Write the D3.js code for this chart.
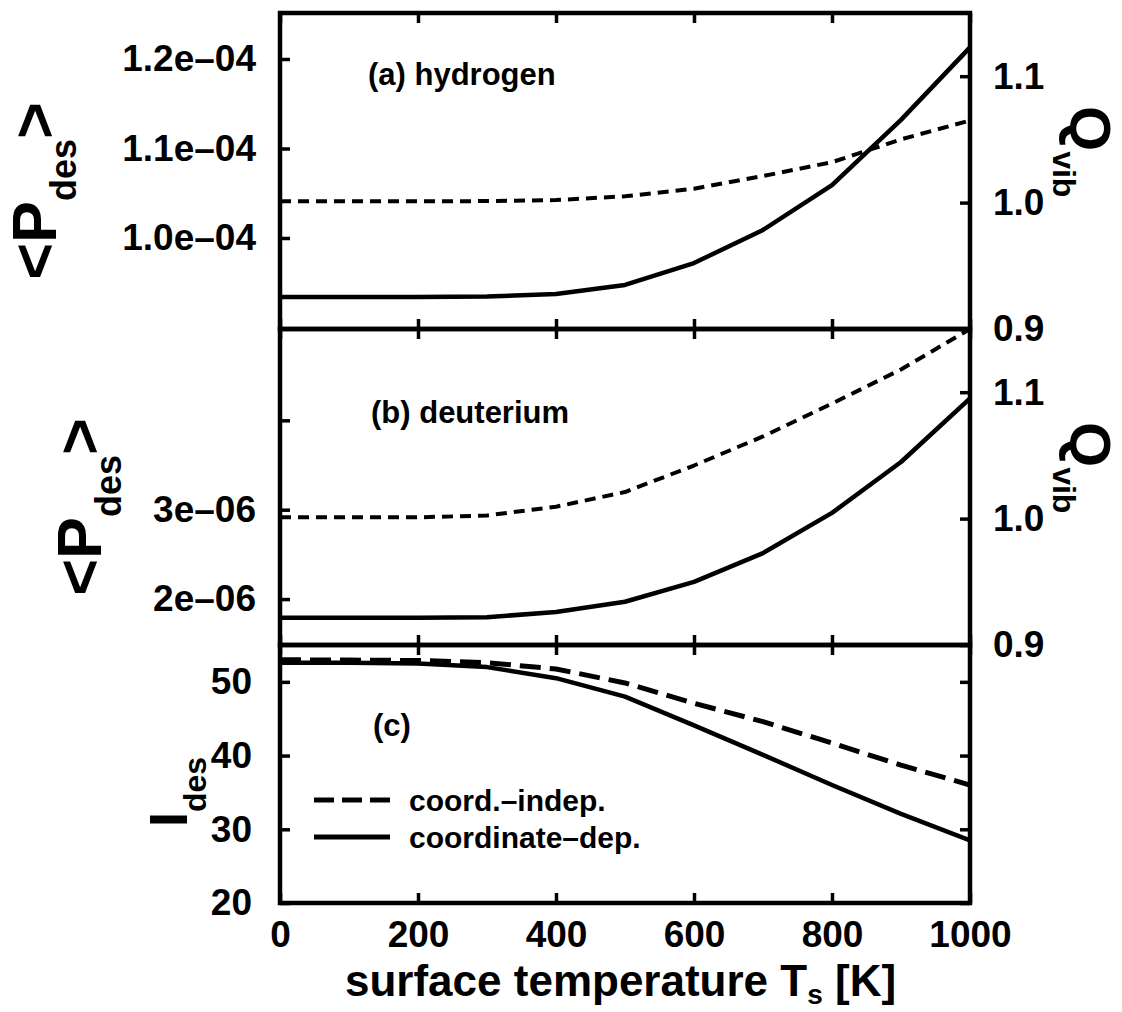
<!DOCTYPE html>
<html>
<head>
<meta charset="utf-8">
<script src="https://cdn.jsdelivr.net/npm/d3@7"></script>
<style>
  body { margin: 0; background: #fff; }
  svg text { font-family: "Liberation Sans", Arial, sans-serif; font-weight: bold; fill: #000; }
</style>
</head>
<body>
<div id="chart"></div>
<script>
// surface temperature grid [K]
const temps = [0, 100, 200, 300, 400, 500, 600, 700, 800, 900, 1000];

// (a) hydrogen: <P_des> in units of 1e-4 (solid, left axis), Q_vib (dashed, right axis)
const hPdes = [0.934, 0.934, 0.934, 0.9345, 0.9374, 0.9475, 0.972, 1.009, 1.059, 1.132, 1.213];
const hQvib = [1.001, 1.001, 1.001, 1.0012, 1.002, 1.005, 1.011, 1.021, 1.032, 1.05, 1.065];

// (b) deuterium: <P_des> in units of 1e-6 (solid), Q_vib (dashed)
const dPdes = [1.791, 1.791, 1.791, 1.797, 1.855, 1.97, 2.193, 2.514, 2.964, 3.534, 4.246];
const dQvib = [1.001, 1.001, 1.001, 1.0025, 1.0094, 1.021, 1.042, 1.065, 1.091, 1.118, 1.15];

// (c) I_des
const iIndep = [53.0, 52.95, 52.9, 52.6, 51.75, 49.85, 47.1, 44.6, 41.7, 38.7, 36.0];
const iDep = [52.6, 52.6, 52.5, 52.0, 50.5, 48.0, 44.1, 40.1, 36.0, 32.1, 28.5];

// ticks
const xTicks = [0, 200, 400, 600, 800, 1000];
const hTicks = [1.0, 1.1, 1.2];
const hTickLabels = ["1.0e\u201304", "1.1e\u201304", "1.2e\u201304"];
const dTicks = [2, 3, 4];
const dTickLabels = ["2e\u201306", "3e\u201306", ""];
const qTicks = [0.9, 1.0, 1.1];
const qTickLabels = ["0.9", "1.0", "1.1"];
const iTicks = [20, 30, 40, 50];
const legendLabels = ["coord.\u2013indep.", "coordinate\u2013dep."];

const W = 1122, H = 1012;
const left = 280, right = 970;
const rows = [13, 329, 645, 903];

const svg = d3.select("#chart").append("svg")
  .attr("width", W).attr("height", H)
  .attr("viewBox", [0, 0, W, H]);
svg.append("rect").attr("width", W).attr("height", H).attr("fill", "#fff");

const x = d3.scaleLinear().domain([0, 1000]).range([left, right]);

const yA = d3.scaleLinear().domain([0.8983, 1.2514]).range([rows[1], rows[0]]);
const qA = d3.scaleLinear().domain([0.9, 1.15]).range([rows[1], rows[0]]);
const yB = d3.scaleLinear().domain([1.486, 5.022]).range([rows[2], rows[1]]);
const qB = d3.scaleLinear().domain([0.9, 1.15]).range([rows[2], rows[1]]);
const yC = d3.scaleLinear().domain([20, 55]).range([rows[3], rows[2]]);

const tickFont = 37;

function styleAxis(g) {
  g.select(".domain").remove();
  g.selectAll(".tick line").attr("stroke", "#000").attr("stroke-width", 3.5);
  g.selectAll(".tick text").attr("font-size", tickFont).attr("fill", "#000")
    .attr("font-family", "Liberation Sans, Arial, sans-serif").attr("font-weight", "bold");
}

function frameTicks(top, bottom) {
  svg.append("g").attr("transform", `translate(0,${top})`)
    .call(d3.axisTop(x).tickValues(xTicks).tickSize(-10).tickFormat(""))
    .call(styleAxis);
  svg.append("g").attr("transform", `translate(0,${bottom})`)
    .call(d3.axisBottom(x).tickValues(xTicks).tickSize(-10).tickFormat(""))
    .call(styleAxis);
}

const line = (yScale) => d3.line().x((d, i) => x(temps[i])).y((d) => yScale(d));

const clip = svg.append("defs");
[0, 1, 2].forEach((p) => {
  clip.append("clipPath").attr("id", "clip" + p)
    .append("rect").attr("x", left).attr("y", rows[p])
    .attr("width", right - left).attr("height", rows[p + 1] - rows[p]);
});

function drawCurve(values, yScale, p, dash, width) {
  svg.append("path")
    .datum(values)
    .attr("clip-path", `url(#clip${p})`)
    .attr("fill", "none")
    .attr("stroke", "#000")
    .attr("stroke-width", width)
    .attr("stroke-dasharray", dash)
    .attr("stroke-linejoin", "round")
    .attr("d", line(yScale));
}

// panel (a)
frameTicks(rows[0], rows[1]);
svg.append("g").attr("transform", `translate(${left},0)`)
  .call(d3.axisLeft(yA).tickValues(hTicks).tickSize(-10).tickPadding(24)
    .tickFormat((d, i) => hTickLabels[i]))
  .call(styleAxis);
svg.append("g").attr("transform", `translate(${right},0)`)
  .call(d3.axisRight(qA).tickValues(qTicks).tickSize(-10).tickPadding(23)
    .tickFormat((d, i) => qTickLabels[i]))
  .call(styleAxis);
drawCurve(hPdes, yA, 0, null, 4.5);
drawCurve(hQvib, qA, 0, "11 7", 4);

// panel (b)
frameTicks(rows[1], rows[2]);
svg.append("g").attr("transform", `translate(${left},0)`)
  .call(d3.axisLeft(yB).tickValues(dTicks).tickSize(-10).tickPadding(24)
    .tickFormat((d, i) => dTickLabels[i]))
  .call(styleAxis);
svg.append("g").attr("transform", `translate(${right},0)`)
  .call(d3.axisRight(qB).tickValues(qTicks).tickSize(-10).tickPadding(23)
    .tickFormat((d, i) => qTickLabels[i]))
  .call(styleAxis);
drawCurve(dPdes, yB, 1, null, 4.5);
drawCurve(dQvib, qB, 1, "11 7", 4);

// panel (c)
frameTicks(rows[2], rows[3]);
svg.append("g").attr("transform", `translate(${left},0)`)
  .call(d3.axisLeft(yC).tickValues(iTicks).tickSize(-10).tickPadding(28))
  .call(styleAxis);
svg.append("g").attr("transform", `translate(${right},0)`)
  .call(d3.axisRight(yC).tickValues(iTicks).tickSize(-10).tickFormat(""))
  .call(styleAxis);
svg.append("g").attr("transform", `translate(0,${rows[3]})`)
  .call(d3.axisBottom(x).tickValues(xTicks).tickSize(0).tickPadding(18)
    .tickFormat(d3.format("d")))
  .call(styleAxis);
drawCurve(iIndep, yC, 2, "21 9", 5);
drawCurve(iDep, yC, 2, null, 4.5);

// frames
[0, 1, 2].forEach((p) => {
  svg.append("rect")
    .attr("x", left).attr("y", rows[p])
    .attr("width", right - left).attr("height", rows[p + 1] - rows[p])
    .attr("fill", "none").attr("stroke", "#000").attr("stroke-width", 4.5);
});

// panel labels
svg.append("text").attr("x", 368).attr("y", 85).attr("font-size", 31).text("(a) hydrogen");
svg.append("text").attr("x", 371).attr("y", 423).attr("font-size", 31).text("(b) deuterium");
svg.append("text").attr("x", 373).attr("y", 736).attr("font-size", 31).text("(c)");

// legend
const legend = svg.append("g");
legendLabels.forEach((lab, i) => {
  const ly = [800, 837][i];
  legend.append("line")
    .attr("x1", 314).attr("x2", 390).attr("y1", ly).attr("y2", ly)
    .attr("stroke", "#000").attr("stroke-width", 5)
    .attr("stroke-dasharray", i === 0 ? "20 8" : null);
  legend.append("text").attr("x", 409).attr("y", ly + 11).attr("font-size", 30).text(lab);
});

// y titles (left)
function pTitle(cx, cy) {
  const t = svg.append("text")
    .attr("transform", `translate(${cx},${cy}) rotate(-90)`)
    .attr("text-anchor", "middle").attr("font-size", 63);
  t.append("tspan").text("<P");
  t.append("tspan").attr("font-size", 36).attr("dy", 20).text("des");
  t.append("tspan").attr("dy", -20).text(">");
}
pTitle(56, 191);
pTitle(101, 507);

const it = svg.append("text")
  .attr("transform", `translate(187,792) rotate(-90)`)
  .attr("text-anchor", "middle").attr("font-size", 54);
it.append("tspan").text("I");
it.append("tspan").attr("font-size", 32).attr("dy", 19).text("des");

// y titles (right)
function qTitle(cx, cy) {
  const t = svg.append("text")
    .attr("transform", `translate(${cx},${cy}) rotate(90)`)
    .attr("font-size", 58);
  t.append("tspan").text("Q");
  t.append("tspan").attr("font-size", 32).attr("dy", 17).text("vib");
}
qTitle(1070, 106);
qTitle(1070, 422);

// x title
const xt = svg.append("text").attr("x", 345).attr("y", 996).attr("font-size", 44);
xt.append("tspan").text("surface temperature T");
xt.append("tspan").attr("font-size", 28).attr("dy", 8).text("s");
xt.append("tspan").attr("dy", -8).text(" [K]");
</script>
</body>
</html>
